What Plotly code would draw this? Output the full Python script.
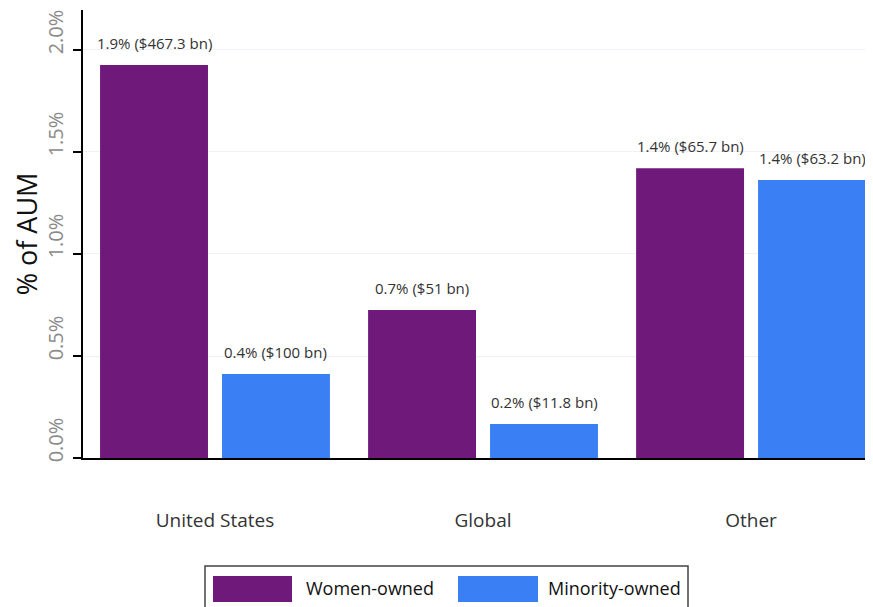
import plotly.graph_objects as go

categories = ["United States", "Global", "Other"]
women_vals = [1.926, 0.725, 1.42]
minority_vals = [0.412, 0.167, 1.363]
women_labels = ["1.9% ($467.3 bn)", "0.7% ($51 bn)", "1.4% ($65.7 bn)"]
minority_labels = ["0.4% ($100 bn)", "0.2% ($11.8 bn)", "1.4% ($63.2 bn)"]
series_names = ["Women-owned", "Minority-owned"]
colors = ["#6f1a7a", "#3b7ff5"]
y_ticks = [0, 0.5, 1.0, 1.5, 2.0]
y_ticktext = ["0.0%", "0.5%", "1.0%", "1.5%", "2.0%"]

OFF = 8  # default page body margin
W, H = 873 - OFF, 607 - OFF
L, R, T, B = 83 - OFF, 0, 10 - OFF, 149
pw, ph = W - L - R, H - T - B
BARGAP, GROUPGAP = 0.09, 0.115

def px(x):
    return (x - OFF - L) / pw

def py(y):
    return (H - B - (y - OFF)) / ph

x = list(range(len(categories)))
font = "Open Sans, Noto Sans, sans-serif"
slot = (1 - BARGAP) / 2

fig = go.Figure()
annotations = []
for k, (vals, labels, name, col) in enumerate([(women_vals, women_labels, series_names[0], colors[0]),
                                               (minority_vals, minority_labels, series_names[1], colors[1])]):
    fig.add_trace(go.Bar(
        x=x, y=vals, name=name, marker=dict(color=col, line=dict(width=0)),
        showlegend=False, hoverinfo="y+name",
    ))
    off = (k - 0.5) * slot
    for xi, v, t in zip(x, vals, labels):
        annotations.append(dict(
            x=xi + off, y=v, xref="x", yref="y", text=t, showarrow=False,
            xanchor="center", yanchor="bottom", yshift=10,
            font=dict(size=15, color="#333333", family=font),
        ))

fig.update_layout(
    width=W, height=H,
    margin=dict(l=L, r=R, t=T, b=B, autoexpand=False),
    plot_bgcolor="white", paper_bgcolor="white",
    barmode="group", bargap=BARGAP, bargroupgap=GROUPGAP,
    font=dict(family=font),
    xaxis=dict(
        range=[-0.4925, 2.455], tickvals=x, ticktext=categories,
        showline=True, linecolor="black", linewidth=1.5, ticks="",
        showgrid=False, zeroline=False, automargin=False,
        tickfont=dict(size=19, color="#333333", family=font),
        ticklabelstandoff=44,
    ),
    yaxis=dict(
        range=[0, 2.196], tickvals=y_ticks, ticktext=y_ticktext,
        tickangle=-90, showline=True, linecolor="black", linewidth=1.5,
        ticks="outside", ticklen=8, tickcolor="black", tickwidth=1.5,
        showgrid=True, gridcolor="#eef1f6", gridwidth=1, zeroline=False, automargin=False,
        tickfont=dict(size=20, color="#8a8a8a", family=font),
        ticklabelshift=-15, ticklabelstandoff=2,
        title=dict(text="% of AUM", font=dict(size=27, color="#111111", family=font), standoff=8),
    ),
)

# Manual legend (large swatches, boxed)
shapes = [
    dict(type="rect", xref="paper", yref="paper", x0=px(205), x1=px(688), y0=py(615), y1=py(566),
         line=dict(color="#444444", width=1.5), fillcolor="white", layer="above"),
    dict(type="rect", xref="paper", yref="paper", x0=px(213), x1=px(292), y0=py(602), y1=py(576),
         line=dict(width=0), fillcolor=colors[0]),
    dict(type="rect", xref="paper", yref="paper", x0=px(458), x1=px(538), y0=py(602), y1=py(576),
         line=dict(width=0), fillcolor=colors[1]),
]
annotations += [
    dict(text=series_names[0], xref="paper", yref="paper", x=px(304), y=py(588), xanchor="left",
         yanchor="middle", showarrow=False, font=dict(size=18, color="#111111", family=font)),
    dict(text=series_names[1], xref="paper", yref="paper", x=px(546), y=py(588), xanchor="left",
         yanchor="middle", showarrow=False, font=dict(size=18, color="#111111", family=font)),
]
fig.update_layout(shapes=shapes, annotations=annotations)

fig.write_html("out.html")
